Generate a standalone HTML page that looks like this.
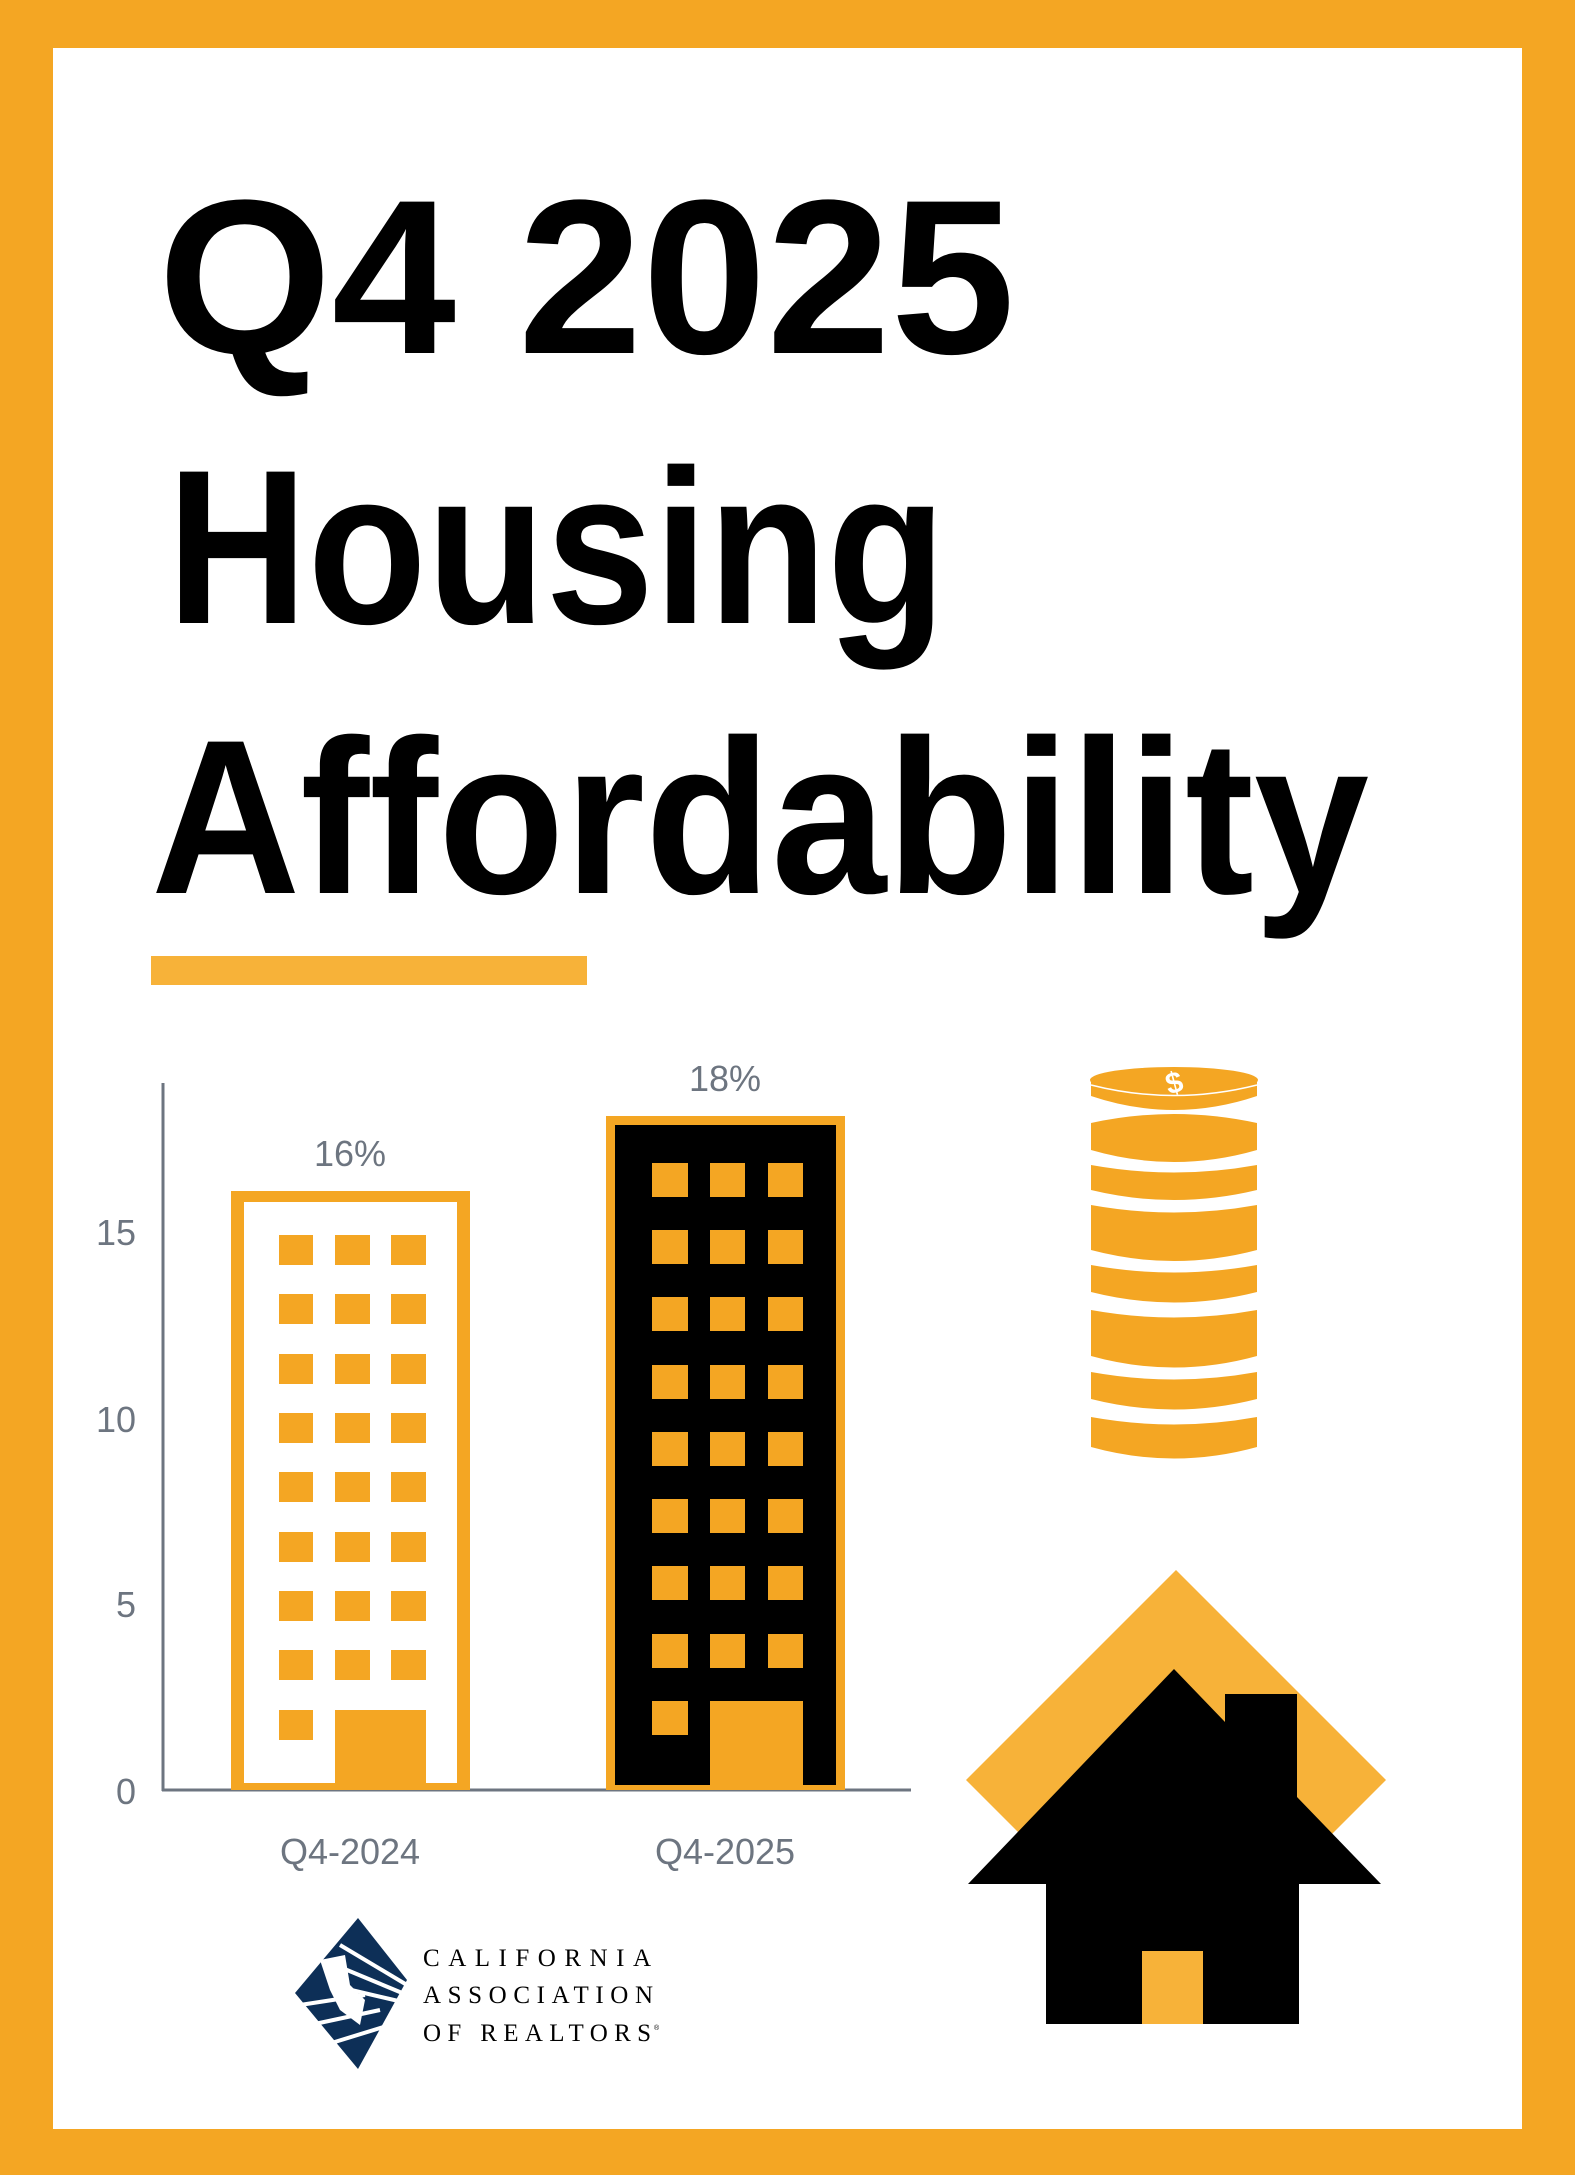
<!DOCTYPE html>
<html><head><meta charset="utf-8"><style>
html,body{margin:0;padding:0;background:#fff}
svg{display:block}
</style></head><body>
<svg width="1575" height="2175" viewBox="0 0 1575 2175" xmlns="http://www.w3.org/2000/svg">
<rect x="0" y="0" width="1575" height="2175" fill="#f4a623"/>
<rect x="53" y="48" width="1469" height="2081" fill="#fff"/>
<g font-family="Liberation Sans, sans-serif" font-weight="bold" fill="#000" font-size="220">
<text x="158" y="353" textLength="857" lengthAdjust="spacingAndGlyphs">Q4 2025</text>
<text x="167" y="623" textLength="779" lengthAdjust="spacingAndGlyphs">Housing</text>
<text x="151" y="893" textLength="1218" lengthAdjust="spacingAndGlyphs">Affordability</text>
</g>
<rect x="151" y="956" width="436" height="29" fill="#f7b239"/>
<g stroke="#6d7580" stroke-width="3" fill="none">
<line x1="163" y1="1083" x2="163" y2="1791"/>
<line x1="162" y1="1790" x2="911" y2="1790"/>
</g>
<g font-family="Liberation Sans, sans-serif" font-size="36" fill="#6d7580">
<text x="136" y="1245" text-anchor="end">15</text>
<text x="136" y="1432" text-anchor="end">10</text>
<text x="136" y="1617" text-anchor="end">5</text>
<text x="136" y="1804" text-anchor="end">0</text>
<text x="350" y="1166" text-anchor="middle">16%</text>
<text x="725" y="1091" text-anchor="middle">18%</text>
<text x="350" y="1864" text-anchor="middle">Q4-2024</text>
<text x="725" y="1864" text-anchor="middle">Q4-2025</text>
</g>
<rect x="231" y="1191" width="239" height="599" fill="#f4a623"/>
<rect x="244" y="1202" width="213" height="581" fill="#fff"/>
<g fill="#f4a623">
<rect x="279" y="1235" width="34" height="30"/><rect x="335" y="1235" width="35" height="30"/><rect x="391" y="1235" width="35" height="30"/>
<rect x="279" y="1294" width="34" height="30"/><rect x="335" y="1294" width="35" height="30"/><rect x="391" y="1294" width="35" height="30"/>
<rect x="279" y="1354" width="34" height="30"/><rect x="335" y="1354" width="35" height="30"/><rect x="391" y="1354" width="35" height="30"/>
<rect x="279" y="1413" width="34" height="30"/><rect x="335" y="1413" width="35" height="30"/><rect x="391" y="1413" width="35" height="30"/>
<rect x="279" y="1472" width="34" height="30"/><rect x="335" y="1472" width="35" height="30"/><rect x="391" y="1472" width="35" height="30"/>
<rect x="279" y="1532" width="34" height="30"/><rect x="335" y="1532" width="35" height="30"/><rect x="391" y="1532" width="35" height="30"/>
<rect x="279" y="1591" width="34" height="30"/><rect x="335" y="1591" width="35" height="30"/><rect x="391" y="1591" width="35" height="30"/>
<rect x="279" y="1650" width="34" height="30"/><rect x="335" y="1650" width="35" height="30"/><rect x="391" y="1650" width="35" height="30"/>
<rect x="279" y="1710" width="34" height="30"/><rect x="335" y="1710" width="91" height="75"/>
</g>
<rect x="606" y="1116" width="239" height="674" fill="#f4a623"/>
<rect x="615" y="1125" width="221" height="660" fill="#000"/>
<g fill="#f4a623">
<rect x="652" y="1163" width="36" height="34"/><rect x="710" y="1163" width="35" height="34"/><rect x="768" y="1163" width="35" height="34"/>
<rect x="652" y="1230" width="36" height="34"/><rect x="710" y="1230" width="35" height="34"/><rect x="768" y="1230" width="35" height="34"/>
<rect x="652" y="1297" width="36" height="34"/><rect x="710" y="1297" width="35" height="34"/><rect x="768" y="1297" width="35" height="34"/>
<rect x="652" y="1365" width="36" height="34"/><rect x="710" y="1365" width="35" height="34"/><rect x="768" y="1365" width="35" height="34"/>
<rect x="652" y="1432" width="36" height="34"/><rect x="710" y="1432" width="35" height="34"/><rect x="768" y="1432" width="35" height="34"/>
<rect x="652" y="1499" width="36" height="34"/><rect x="710" y="1499" width="35" height="34"/><rect x="768" y="1499" width="35" height="34"/>
<rect x="652" y="1566" width="36" height="34"/><rect x="710" y="1566" width="35" height="34"/><rect x="768" y="1566" width="35" height="34"/>
<rect x="652" y="1634" width="36" height="34"/><rect x="710" y="1634" width="35" height="34"/><rect x="768" y="1634" width="35" height="34"/>
<rect x="652" y="1701" width="36" height="34"/><rect x="710" y="1701" width="93" height="86"/>
</g>
<g fill="#f4a623">
<path d="M1091,1123 Q1174,1105 1257,1123 L1257,1150 Q1174,1174 1091,1150 Z"/>
<path d="M1091,1165 Q1174,1180 1257,1165 L1257,1190 Q1174,1210 1091,1190 Z"/>
<path d="M1091,1205 Q1174,1220 1257,1205 L1257,1250 Q1174,1272 1091,1250 Z"/>
<path d="M1091,1265 Q1174,1280 1257,1265 L1257,1292 Q1174,1313 1091,1292 Z"/>
<path d="M1091,1310 Q1174,1325 1257,1310 L1257,1356 Q1174,1379 1091,1356 Z"/>
<path d="M1091,1372 Q1174,1387 1257,1372 L1257,1399 Q1174,1420 1091,1399 Z"/>
<path d="M1091,1417 Q1174,1432 1257,1417 L1257,1447 Q1174,1470 1091,1447 Z"/>
<path d="M1091,1080 L1091,1096 Q1174,1124 1257,1096 L1257,1080 Z"/>
<ellipse cx="1174" cy="1080" rx="84" ry="13"/>
</g>
<path d="M1091,1085 Q1174,1106 1257,1085" stroke="#fff" stroke-width="1.5" fill="none"/>
<text x="1174" y="1093" text-anchor="middle" font-family="Liberation Sans, sans-serif" font-weight="bold" font-size="30" fill="#fff" transform="rotate(-15 1174 1082)">$</text>
<polygon points="1176,1570 1386,1780 1176,1990 966,1780" fill="#f7b239"/>
<polygon points="1174,1669 1225,1722 1225,1694 1297,1694 1297,1797 1381,1884 1299,1884 1299,2024 1203,2024 1203,1951 1142,1951 1142,2024 1046,2024 1046,1884 968,1884" fill="#000"/>
<rect x="1142" y="1951" width="61" height="73" fill="#f7b239"/>
<polygon points="358,1918 407,1980 358,2069 295,1993" fill="#0d2f57"/>
<g stroke="#fff" stroke-width="4" fill="none">
<line x1="340" y1="1945" x2="407" y2="1985"/>
<line x1="335" y1="1965" x2="407" y2="1995"/>
<line x1="330" y1="1985" x2="407" y2="2003"/>
<line x1="300" y1="2005" x2="365" y2="1995"/>
<line x1="310" y1="2025" x2="380" y2="2010"/>
<line x1="325" y1="2045" x2="390" y2="2025"/>
</g>
<path d="M320,1960 L345,1955 L350,1985 L365,2000 L360,2025 L340,2010 L330,1990 Z" fill="#fff"/>
<g font-family="Liberation Serif, serif" font-size="25" fill="#000">
<text x="423" y="1966" textLength="228" lengthAdjust="spacing">CALIFORNIA</text>
<text x="423" y="2003" textLength="230" lengthAdjust="spacing">ASSOCIATION</text>
<text x="423" y="2041" textLength="228" lengthAdjust="spacing">OF REALTORS</text>
</g>
<text x="654" y="2030" font-family="Liberation Sans, sans-serif" font-size="7" fill="#000">®</text>
</svg>
</body></html>
